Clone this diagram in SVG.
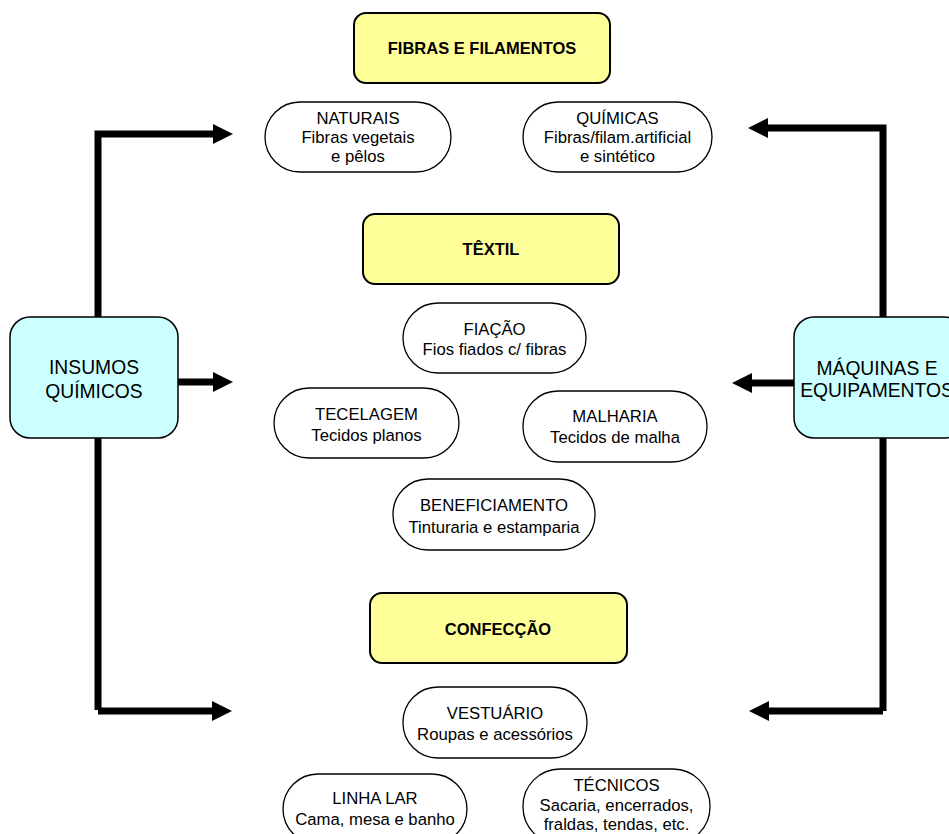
<svg xmlns="http://www.w3.org/2000/svg" width="949" height="834" viewBox="0 0 949 834">
  <style>
    .stage { fill: #FFFF99; stroke: #000; stroke-width: 2; }
    .side { fill: #CCFFFF; stroke: #000; stroke-width: 1.5; }
    .item { fill: #FFFFFF; stroke: #000; stroke-width: 1.3; }
    .title { font-family: "Liberation Sans", Arial, sans-serif; font-size: 16.5px; font-weight: bold; fill: #000; text-anchor: middle; }
    .txt { font-family: "Liberation Sans", Arial, sans-serif; font-size: 16.7px; fill: #000; text-anchor: middle; }
    .big { font-family: "Liberation Sans", Arial, sans-serif; font-size: 19.3px; fill: #000; text-anchor: middle; }
    .wire { fill: none; stroke: #000; stroke-width: 7; stroke-linejoin: miter; }
  </style>
  <defs>
    <marker id="head" viewBox="0 0 20 20" refX="0" refY="10" markerWidth="20" markerHeight="20" markerUnits="userSpaceOnUse" orient="auto">
      <path d="M0,0 L20,10 L0,20 Z" fill="#000"/>
    </marker>
  </defs>
  <rect width="949" height="834" fill="#FFFFFF"/>

  <!-- connectors -->
  <g id="connectors">
    <path class="wire" d="M98,710 V134 H213" marker-end="url(#head)"/>
    <path class="wire" d="M178,382 H213" marker-end="url(#head)"/>
    <path class="wire" d="M98,711 H212" marker-end="url(#head)"/>
    <path class="wire" d="M883,711 V128 H768" marker-end="url(#head)"/>
    <path class="wire" d="M794,383 H752" marker-end="url(#head)"/>
    <path class="wire" d="M883,711 H769" marker-end="url(#head)"/>
  </g>

  <!-- side inputs -->
  <g id="insumos">
    <rect class="side" x="10" y="317" width="168" height="121" rx="20"/>
    <text class="big" x="94" y="374">INSUMOS</text>
    <text class="big" x="94" y="398">QUÍMICOS</text>
  </g>
  <g id="maquinas">
    <rect class="side" x="794" y="317" width="170" height="121" rx="20"/>
    <text class="big" x="877" y="375">MÁQUINAS E</text>
    <text class="big" x="877" y="397">EQUIPAMENTOS</text>
  </g>

  <!-- stage headers -->
  <g id="fibras">
    <rect class="stage" x="354" y="13" width="256" height="70" rx="12"/>
    <text class="title" x="482" y="54">FIBRAS E FILAMENTOS</text>
  </g>
  <g id="textil">
    <rect class="stage" x="363" y="214" width="256" height="70" rx="12"/>
    <text class="title" x="491" y="255">TÊXTIL</text>
  </g>
  <g id="confeccao">
    <rect class="stage" x="370" y="593" width="257" height="70" rx="12"/>
    <text class="title" x="498" y="635">CONFECÇÃO</text>
  </g>

  <!-- fibres -->
  <g id="naturais">
    <rect class="item" x="265" y="102" width="186" height="70" rx="35"/>
    <text class="txt" x="358" y="124">NATURAIS</text>
    <text class="txt" x="358" y="143">Fibras vegetais</text>
    <text class="txt" x="358" y="162">e pêlos</text>
  </g>
  <g id="quimicas">
    <rect class="item" x="523" y="102" width="189" height="70" rx="35"/>
    <text class="txt" x="617.5" y="124">QUÍMICAS</text>
    <text class="txt" x="617.5" y="143">Fibras/filam.artificial</text>
    <text class="txt" x="617.5" y="162">e sintético</text>
  </g>

  <!-- textile -->
  <g id="fiacao">
    <rect class="item" x="403" y="303" width="183" height="70" rx="35"/>
    <text class="txt" x="494.5" y="335">FIAÇÃO</text>
    <text class="txt" x="494.5" y="355">Fios fiados c/ fibras</text>
  </g>
  <g id="tecelagem">
    <rect class="item" x="274" y="388" width="185" height="70" rx="35"/>
    <text class="txt" x="366.5" y="420">TECELAGEM</text>
    <text class="txt" x="366.5" y="441">Tecidos planos</text>
  </g>
  <g id="malharia">
    <rect class="item" x="523" y="391" width="184" height="71" rx="35"/>
    <text class="txt" x="615" y="422">MALHARIA</text>
    <text class="txt" x="615" y="443">Tecidos de malha</text>
  </g>
  <g id="beneficiamento">
    <rect class="item" x="393" y="479" width="202" height="71" rx="35"/>
    <text class="txt" x="494" y="511">BENEFICIAMENTO</text>
    <text class="txt" x="494" y="533">Tinturaria e estamparia</text>
  </g>

  <!-- clothing -->
  <g id="vestuario">
    <rect class="item" x="403" y="687" width="184" height="71" rx="35"/>
    <text class="txt" x="495" y="719">VESTUÁRIO</text>
    <text class="txt" x="495" y="740">Roupas e acessórios</text>
  </g>
  <g id="linhalar">
    <rect class="item" x="283" y="774" width="184" height="70" rx="35"/>
    <text class="txt" x="375" y="804">LINHA LAR</text>
    <text class="txt" x="375" y="825">Cama, mesa e banho</text>
  </g>
  <g id="tecnicos">
    <rect class="item" x="523" y="769" width="187" height="75" rx="37"/>
    <text class="txt" x="616.5" y="791">TÉCNICOS</text>
    <text class="txt" x="616.5" y="811">Sacaria, encerrados,</text>
    <text class="txt" x="616.5" y="830">fraldas, tendas, etc.</text>
  </g>
</svg>
